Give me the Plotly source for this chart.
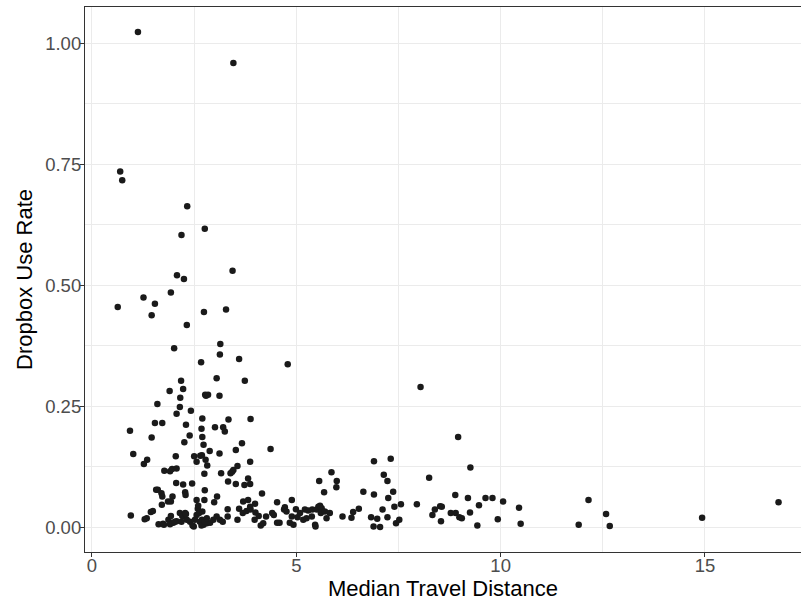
import plotly.graph_objects as go

# Median travel distance (x) and dropbox use rate (y)
dist = [
    1.125, 3.46, 0.69, 0.74, 2.33, 2.76, 2.19, 3.44, 2.08, 2.25, 1.26, 1.93, 0.63, 1.54, 1.46,
    2.74, 3.28, 2.32, 2.01, 3.14, 3.13, 2.67, 3.60, 4.79, 3.05, 3.74, 2.18, 1.90, 2.23, 2.16,
    2.77, 2.79, 2.84, 3.12, 1.60, 2.15, 2.07, 2.42, 3.88, 2.70, 3.34, 1.54, 1.72, 2.30, 0.93,
    2.68, 3.01, 3.21, 3.25, 2.39, 1.46, 2.70, 2.26, 3.67, 2.73, 4.37, 3.52, 2.88, 3.12, 1.01,
    2.05, 2.50, 2.56, 2.65, 2.69, 2.78, 2.82, 1.35, 1.27, 3.87, 3.56, 2.75, 3.16, 3.39, 3.46,
    3.43, 1.77, 1.91, 1.96, 2.07, 3.33, 2.06, 2.23, 2.45, 3.52, 3.73, 3.82, 3.87, 1.57, 1.61,
    2.28, 2.29, 2.76, 1.70, 1.72, 1.97, 3.06, 4.16, 1.86, 1.93, 1.71, 2.56, 2.75, 2.99, 3.70,
    3.82, 3.99, 4.53, 4.89, 0.95, 1.29, 1.34, 1.44, 1.49, 1.63, 1.74, 1.87, 1.93, 1.99, 2.07,
    2.15, 2.21, 2.28, 2.32, 2.40, 2.49, 2.56, 2.59, 2.69, 2.73, 2.81, 2.89, 2.97, 3.05, 3.13,
    3.20, 3.32, 3.32, 3.56, 3.60, 3.69, 3.78, 3.88, 3.98, 4.00, 4.08, 4.13, 4.19, 4.26, 4.41,
    4.45, 4.53, 4.59, 4.70, 4.72, 4.84, 4.89, 4.93, 4.99, 5.03,
    1.76, 1.91, 2.03, 2.19, 2.30, 2.46, 2.52, 2.64, 2.68, 2.76, 2.81, 2.60, 2.70, 2.62,
    3.87, 4.76, 5.21, 5.29, 5.39,
    8.04, 8.96, 9.26, 6.90, 7.31, 8.25, 7.14, 7.23, 5.86, 5.56, 5.99, 5.98, 5.68, 6.64, 6.90,
    7.37, 7.25, 8.89, 9.20, 9.63, 9.80, 10.06, 12.15, 16.80, 7.95, 7.40, 7.56, 7.11, 6.53, 6.39,
    6.35, 6.13, 6.83, 6.98, 7.23, 6.89, 7.05, 7.44, 7.52, 8.52, 8.56, 8.39, 8.33, 8.54, 8.78,
    8.90, 8.99, 9.05, 9.25, 9.47, 9.43, 9.93, 10.45, 10.49, 11.91, 12.58, 12.67, 14.93,
    5.09, 5.17, 5.25, 5.38, 5.46, 5.47, 5.50, 5.54, 5.58, 5.62, 5.60, 5.70, 5.74, 5.82,
]
use_rate = [
    1.023, 0.959, 0.735, 0.717, 0.663, 0.617, 0.604, 0.530, 0.521, 0.513, 0.475, 0.485, 0.455, 0.462, 0.438,
    0.445, 0.450, 0.418, 0.370, 0.379, 0.357, 0.341, 0.348, 0.337, 0.308, 0.303, 0.303, 0.282, 0.286, 0.268,
    0.274, 0.272, 0.274, 0.272, 0.255, 0.249, 0.235, 0.241, 0.224, 0.225, 0.223, 0.216, 0.216, 0.212, 0.200,
    0.204, 0.207, 0.207, 0.198, 0.190, 0.186, 0.187, 0.176, 0.174, 0.171, 0.162, 0.160, 0.158, 0.153, 0.152,
    0.147, 0.147, 0.136, 0.148, 0.149, 0.140, 0.128, 0.140, 0.131, 0.136, 0.127, 0.111, 0.112, 0.112, 0.119,
    0.115, 0.117, 0.116, 0.121, 0.122, 0.095, 0.092, 0.089, 0.091, 0.090, 0.088, 0.101, 0.090, 0.078, 0.078,
    0.073, 0.067, 0.077, 0.071, 0.064, 0.064, 0.064, 0.070, 0.054, 0.054, 0.047, 0.057, 0.057, 0.052, 0.054,
    0.057, 0.049, 0.052, 0.057, 0.025, 0.017, 0.019, 0.032, 0.034, 0.007, 0.008, 0.016, 0.024, 0.010, 0.013,
    0.030, 0.024, 0.030, 0.016, 0.012, 0.002, 0.026, 0.039, 0.016, 0.006, 0.009, 0.010, 0.016, 0.023, 0.016,
    0.012, 0.023, 0.038, 0.016, 0.039, 0.030, 0.034, 0.037, 0.016, 0.031, 0.024, 0.004, 0.009, 0.023, 0.030,
    0.026, 0.010, 0.010, 0.037, 0.042, 0.010, 0.023, 0.006, 0.038, 0.021,
    0.006, 0.007, 0.012, 0.012, 0.028, 0.004, 0.016, 0.012, 0.004, 0.012, 0.019, 0.045, 0.033, 0.030,
    0.043, 0.033, 0.037, 0.035, 0.037,
    0.290, 0.187, 0.124, 0.137, 0.142, 0.103, 0.109, 0.096, 0.114, 0.096, 0.096, 0.083, 0.073, 0.074, 0.068,
    0.074, 0.061, 0.067, 0.061, 0.061, 0.061, 0.054, 0.057, 0.052, 0.048, 0.043, 0.048, 0.037, 0.039, 0.032,
    0.020, 0.023, 0.021, 0.018, 0.021, 0.002, 0.001, 0.009, 0.016, 0.044, 0.043, 0.037, 0.026, 0.013, 0.030,
    0.030, 0.021, 0.019, 0.031, 0.046, 0.004, 0.017, 0.041, 0.008, 0.006, 0.028, 0.003, 0.020,
    0.030, 0.016, 0.019, 0.023, 0.006, 0.002, 0.037, 0.043, 0.045, 0.040, 0.030, 0.033, 0.019, 0.030,
]

x_ticks = [0, 5, 10, 15]
y_ticks = [0.0, 0.25, 0.5, 0.75, 1.0]
y_tick_labels = ["0.00", "0.25", "0.50", "0.75", "1.00"]

FONT = "Liberation Sans, Arial, Helvetica, sans-serif"
GRID = "#EBEBEB"
BORDER = "#333333"

fig = go.Figure(
    go.Scatter(
        x=dist, y=use_rate, mode="markers",
        marker=dict(size=6.5, color="#1a1a1a", line=dict(width=0)),
        showlegend=False,
    )
)

fig.update_layout(
    width=801, height=603,
    margin=dict(l=85, r=0, t=7, b=51),
    paper_bgcolor="white", plot_bgcolor="white",
    font=dict(family=FONT),
)

fig.update_xaxes(
    range=[-0.171, 17.35],
    tickvals=x_ticks, ticktext=[str(v) for v in x_ticks],
    showgrid=True, gridcolor=GRID, gridwidth=1,
    minor=dict(dtick=2.5, tick0=0, showgrid=True, gridcolor=GRID, gridwidth=0.6),
    zeroline=False,
    showline=True, linecolor=BORDER, linewidth=1.2, mirror=True,
    ticks="outside", ticklen=4, tickwidth=1, tickcolor=BORDER,
    ticklabelstandoff=-7,
    tickfont=dict(size=18.5, color="#4D4D4D", family=FONT),
    title=dict(text="Median Travel Distance", font=dict(size=22, color="black", family=FONT), standoff=4),
)
fig.update_yaxes(
    range=[-0.0505, 1.0745],
    tickvals=y_ticks, ticktext=y_tick_labels,
    showgrid=True, gridcolor=GRID, gridwidth=1,
    minor=dict(dtick=0.125, tick0=0, showgrid=True, gridcolor=GRID, gridwidth=0.6),
    zeroline=False,
    showline=True, linecolor=BORDER, linewidth=1.2, mirror=False,
    ticks="outside", ticklen=4, tickwidth=1, tickcolor=BORDER,
    ticklabelstandoff=-5,
    tickfont=dict(size=18.5, color="#4D4D4D", family=FONT),
    title=dict(text="Dropbox Use Rate", font=dict(size=22, color="black", family=FONT), standoff=6),
)

fig.write_html("out.html")
